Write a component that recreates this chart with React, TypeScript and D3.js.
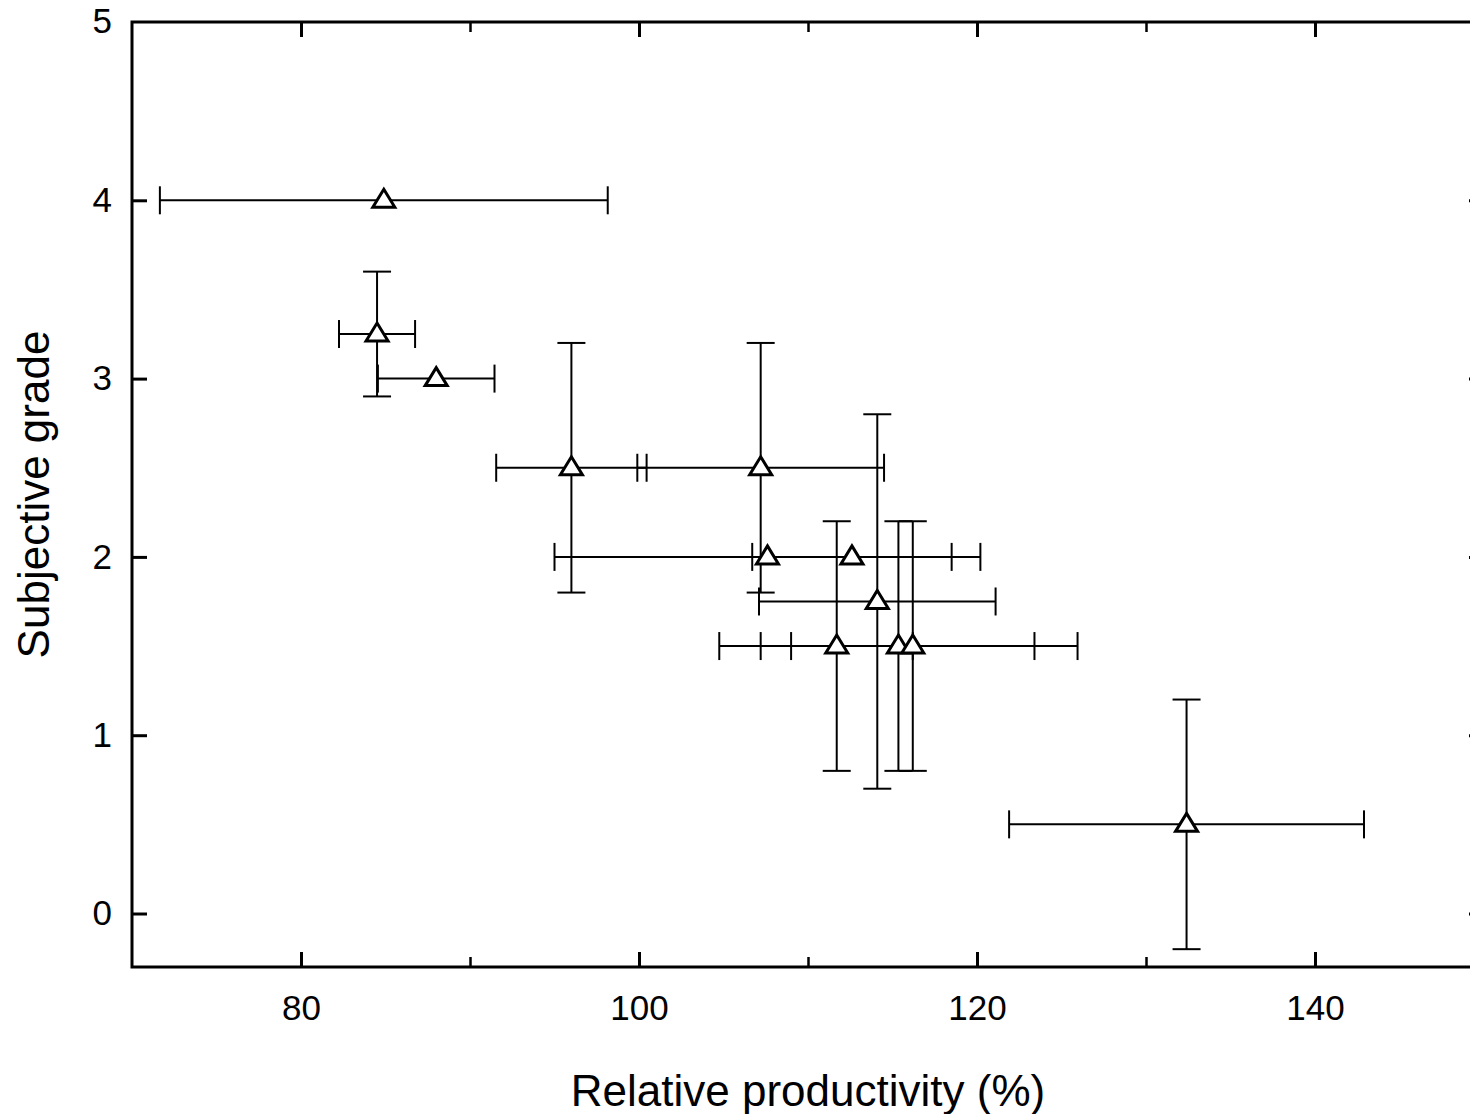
import React, { useEffect, useRef } from 'react';
import * as d3 from 'd3';

// Relative productivity (%) and subjective grade, with half-width error bars
const productivity = [84.9, 84.5, 88.0, 96.0, 107.2, 107.6, 112.6, 114.1, 111.7, 115.35, 116.2, 132.4];
const grade = [4.0, 3.25, 3.0, 2.5, 2.5, 2.0, 2.0, 1.75, 1.5, 1.5, 1.5, 0.5];
const productivityErr = [13.25, 2.25, 3.45, 4.45, 7.3, 12.6, 5.9, 7.0, 4.5, 10.6, 7.2, 10.5];
const gradeErr = [0, 0.35, 0, 0.7, 0.7, 0, 0, 1.05, 0.7, 0.7, 0.7, 0.7];

const xMajorTicks = [80, 100, 120, 140];
const xMinorTicks = [90, 110, 130];
const yTicks = [0, 1, 2, 3, 4, 5];

const FONT = '"Liberation Sans", Arial, Helvetica, sans-serif';

const App = () => {
  const svgRef = useRef<SVGSVGElement | null>(null);

  useEffect(() => {
    if (!svgRef.current) return;
    const svg = d3.select(svgRef.current);
    svg.selectAll('*').remove();

    const left = 132;
    const right = 1484; // the frame runs a little past the picture edge
    const top = 22;
    const bottom = 967;

    const x = d3.scaleLinear().domain([70, 150]).range([left, right]);
    const y = d3.scaleLinear().domain([-0.3, 5]).range([bottom, top]);

    const data = productivity.map((p, i) => ({
      x: p,
      y: grade[i],
      ex: productivityErr[i],
      ey: gradeErr[i],
    }));

    // Axes (ticks pointing inward)
    const styleAxis = (g: any, width: number) => {
      g.select('.domain').remove();
      g.selectAll('.tick line').attr('stroke', '#000').attr('stroke-width', width);
      g.selectAll('.tick text')
        .attr('fill', '#000')
        .style('font-family', FONT)
        .style('font-size', '35px');
    };

    svg.append('g')
      .attr('transform', `translate(0, ${bottom})`)
      .call(d3.axisBottom(x).tickValues(xMajorTicks).tickSize(-15).tickPadding(28).tickFormat(d3.format('d')) as any)
      .call((g: any) => styleAxis(g, 3));

    svg.append('g')
      .attr('transform', `translate(0, ${bottom})`)
      .call(d3.axisBottom(x).tickValues(xMinorTicks).tickSize(-10).tickFormat(() => '') as any)
      .call((g: any) => styleAxis(g, 2.5));

    svg.append('g')
      .attr('transform', `translate(0, ${top})`)
      .call(d3.axisTop(x).tickValues(xMajorTicks).tickSize(-15).tickFormat(() => '') as any)
      .call((g: any) => styleAxis(g, 3));

    svg.append('g')
      .attr('transform', `translate(0, ${top})`)
      .call(d3.axisTop(x).tickValues(xMinorTicks).tickSize(-10).tickFormat(() => '') as any)
      .call((g: any) => styleAxis(g, 2.5));

    svg.append('g')
      .attr('transform', `translate(${left}, 0)`)
      .call(d3.axisLeft(y).tickValues(yTicks.filter(t => t < 5)).tickSize(-15).tickPadding(20).tickFormat(d3.format('d')) as any)
      .call((g: any) => styleAxis(g, 3));

    // label for 5 sits at the frame corner
    svg.append('text')
      .attr('x', left - 20)
      .attr('y', y(5))
      .attr('dy', '0.32em')
      .attr('text-anchor', 'end')
      .style('font-family', FONT)
      .style('font-size', '35px')
      .text('5');

    svg.append('g')
      .attr('transform', `translate(${right}, 0)`)
      .call(d3.axisRight(y).tickValues(yTicks.filter(t => t < 5)).tickSize(-15).tickFormat(() => '') as any)
      .call((g: any) => styleAxis(g, 3));

    // Frame
    svg.append('rect')
      .attr('x', left)
      .attr('y', top)
      .attr('width', right - left)
      .attr('height', bottom - top)
      .attr('fill', 'none')
      .attr('stroke', '#000')
      .attr('stroke-width', 3);

    // Error bars
    const bars = svg.append('g').attr('stroke', '#000').attr('stroke-width', 2).attr('fill', 'none');
    const capX = 14;
    const capY = 14;

    data.forEach(d => {
      if (d.ex > 0) {
        const x0 = x(d.x - d.ex);
        const x1 = x(d.x + d.ex);
        const yc = y(d.y);
        bars.append('line').attr('x1', x0).attr('x2', x1).attr('y1', yc).attr('y2', yc);
        bars.append('line').attr('x1', x0).attr('x2', x0).attr('y1', yc - capY).attr('y2', yc + capY);
        bars.append('line').attr('x1', x1).attr('x2', x1).attr('y1', yc - capY).attr('y2', yc + capY);
      }
      if (d.ey > 0) {
        const y0 = y(d.y - d.ey);
        const y1 = y(d.y + d.ey);
        const xc = x(d.x);
        bars.append('line').attr('x1', xc).attr('x2', xc).attr('y1', y0).attr('y2', y1);
        bars.append('line').attr('x1', xc - capX).attr('x2', xc + capX).attr('y1', y0).attr('y2', y0);
        bars.append('line').attr('x1', xc - capX).attr('x2', xc + capX).attr('y1', y1).attr('y2', y1);
      }
    });

    // Open triangle markers
    svg.append('g')
      .selectAll('path')
      .data(data)
      .enter()
      .append('path')
      .attr('transform', d => `translate(${x(d.x)}, ${y(d.y)})`)
      .attr('d', 'M0,-11 L11,7 L-11,7 Z')
      .attr('fill', '#fff')
      .attr('stroke', '#000')
      .attr('stroke-width', 3)
      .attr('stroke-linejoin', 'miter');

    // Axis titles
    svg.append('text')
      .attr('x', (left + right) / 2)
      .attr('y', 1106)
      .attr('text-anchor', 'middle')
      .style('font-family', FONT)
      .style('font-size', '44px')
      .text('Relative productivity (%)');

    svg.append('text')
      .attr('transform', `translate(49, ${(top + bottom) / 2}) rotate(-90)`)
      .attr('text-anchor', 'middle')
      .style('font-family', FONT)
      .style('font-size', '44px')
      .text('Subjective grade');
  }, []);

  return (
    <svg
      ref={svgRef}
      width={1470}
      height={1114}
      style={{ position: 'absolute', left: 0, top: 0, background: '#fff' }}
    />
  );
};

export default App;
